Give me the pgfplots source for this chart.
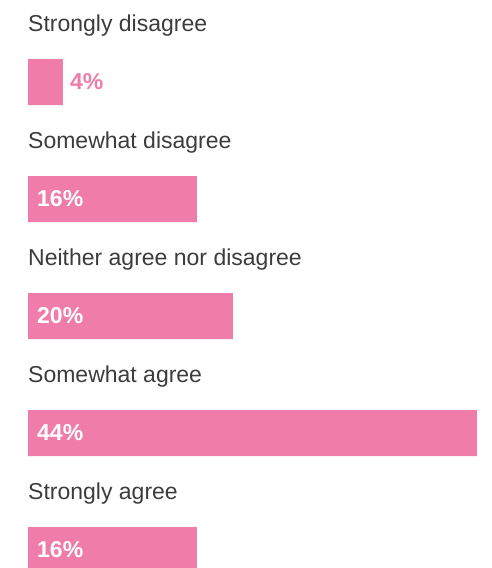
\documentclass[border=0pt]{standalone}
\usepackage{fontspec}
\setmainfont{Liberation Sans}
\usepackage{pgfplots}
\pgfplotsset{compat=1.18}
\definecolor{barpink}{HTML}{EF7CA9}
\definecolor{labgray}{HTML}{3C3C3C}
\begin{document}
\begin{tikzpicture}
\useasboundingbox (0,0) rectangle (491pt,568pt);
\begin{axis}[
  at={(28pt,0pt)}, anchor=south west,
  width=463pt, height=568pt, scale only axis,
  xmin=0, xmax=45.39,
  ymin=-0.7009, ymax=4.1538, y dir=reverse,
  axis line style={draw=none},
  xtick=\empty,
  ytick={0,1,2,3,4},
  yticklabels={Strongly disagree, Somewhat disagree, Neither agree nor disagree, Somewhat agree, Strongly agree},
  major tick length=0pt,
  yticklabel style={anchor=base west, inner sep=0pt, xshift=0pt, yshift=51pt, text=labgray, font=\fontsize{23}{27}\selectfont},
]
\addplot[xbar, bar width=46pt, bar shift=0pt, fill=barpink, draw=none]
  coordinates {(3.43,0) (16.56,1) (20.09,2) (44,3) (16.56,4)};
\addplot[draw=none, mark=none, nodes near coords, point meta=explicit symbolic,
  nodes near coords style={anchor=west, text=white, font=\bfseries\fontsize{23}{27}\selectfont, xshift=9pt, inner sep=0pt}]
  coordinates {(0,1)[16\%] (0,2)[20\%] (0,3)[44\%] (0,4)[16\%]};
\addplot[draw=none, mark=none, nodes near coords, point meta=explicit symbolic,
  nodes near coords style={anchor=west, text=barpink, font=\bfseries\fontsize{23}{27}\selectfont, xshift=7pt, inner sep=0pt}]
  coordinates {(3.43,0)[4\%]};
\end{axis}
\end{tikzpicture}
\end{document}
